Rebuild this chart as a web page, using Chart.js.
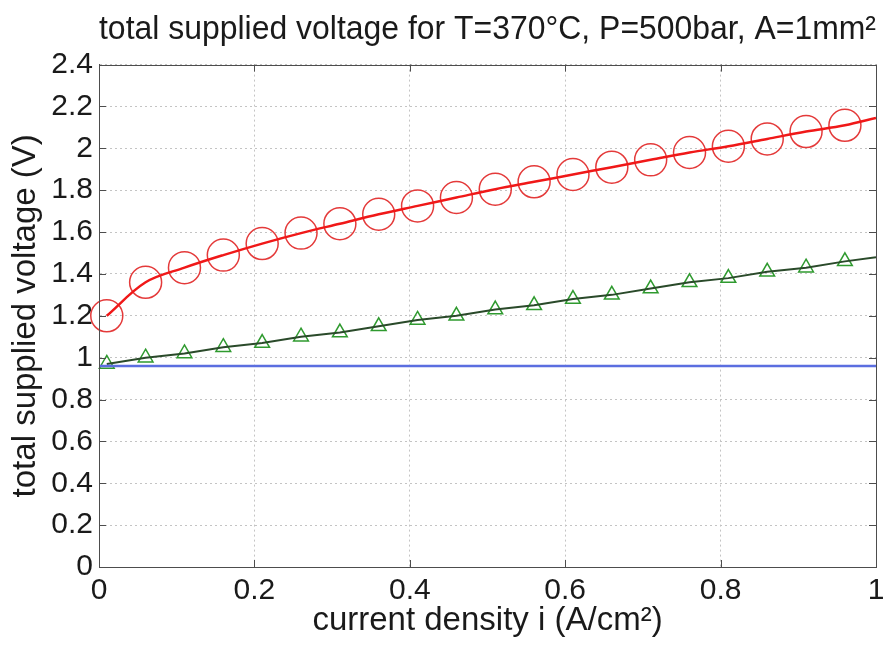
<!DOCTYPE html>
<html>
<head>
<meta charset="utf-8">
<script src="https://cdn.jsdelivr.net/npm/chart.js@4"></script>
<style>
    html, body { margin: 0; padding: 0; background: #fff; }
    #wrap { width: 885px; height: 653px; }
</style>
</head>
<body>
<div id="wrap"><canvas id="voltChart"></canvas></div>
<script>
// current density samples (A/cm2) where the markers sit
var currentDensity = [0.01, 0.06, 0.11, 0.16, 0.21, 0.26, 0.31, 0.36, 0.41, 0.46,
                      0.51, 0.56, 0.61, 0.66, 0.71, 0.76, 0.81, 0.86, 0.91, 0.96];
// total supplied voltage (red circles)
var totalVoltage = [1.20, 1.36, 1.43, 1.49, 1.545, 1.595, 1.64, 1.685, 1.725, 1.765,
                    1.805, 1.84, 1.875, 1.91, 1.945, 1.98, 2.01, 2.045, 2.08, 2.11];
// green triangles
var ohmicVoltage = [0.97, 1.00, 1.02, 1.05, 1.07, 1.10, 1.12, 1.15, 1.18, 1.20,
                    1.23, 1.25, 1.28, 1.30, 1.33, 1.36, 1.38, 1.41, 1.43, 1.46];
// curve ends at i = 1
var totalVoltageEnd = 2.145;
var ohmicVoltageEnd = 1.48;
// blue flat line (reversible voltage)
var reversibleX = [0, 1];
var reversibleV = [0.96, 0.96];

var xTicks = [0, 0.2, 0.4, 0.6, 0.8, 1];
var yTicks = [0, 0.2, 0.4, 0.6, 0.8, 1, 1.2, 1.4, 1.6, 1.8, 2, 2.2, 2.4];

function toPoints(xs, ys) {
    return xs.map(function (x, i) { return { x: x, y: ys[i] }; });
}

var redLine = toPoints(currentDensity.concat([1]), totalVoltage.concat([totalVoltageEnd]));
var greenLine = toPoints(currentDensity.concat([1]), ohmicVoltage.concat([ohmicVoltageEnd]));

// box around the axes + inward ticks, matlab style
var boxPlugin = {
    id: 'box',
    afterDraw: function (chart) {
        var ctx = chart.ctx, a = chart.chartArea;
        var xs = chart.scales.x, ys = chart.scales.y;
        ctx.save();
        ctx.strokeStyle = '#4d4d4d';
        ctx.lineWidth = 1;
        ctx.strokeRect(Math.round(a.left) + 0.5, Math.round(a.top) + 0.5,
            Math.round(a.right - a.left), Math.round(a.bottom - a.top));
        ctx.beginPath();
        xTicks.forEach(function (v) {
            var px = Math.round(xs.getPixelForValue(v)) + 0.5;
            ctx.moveTo(px, a.bottom); ctx.lineTo(px, a.bottom - 7);
            ctx.moveTo(px, a.top); ctx.lineTo(px, a.top + 7);
        });
        yTicks.forEach(function (v) {
            var py = Math.round(ys.getPixelForValue(v)) + 0.5;
            ctx.moveTo(a.left, py); ctx.lineTo(a.left + 7, py);
            ctx.moveTo(a.right, py); ctx.lineTo(a.right - 7, py);
        });
        ctx.stroke();
        ctx.restore();
    }
};

var ctx = document.getElementById('voltChart').getContext('2d');
var voltChart = new Chart(ctx, {
    type: 'scatter',
    data: {
        datasets: [
            {
                label: 'reversible',
                data: toPoints(reversibleX, reversibleV),
                showLine: true,
                borderColor: '#5b6ee0',
                borderWidth: 2.5,
                pointRadius: 0
            },
            {
                label: 'total line',
                data: redLine,
                showLine: true,
                borderColor: '#f01818',
                borderWidth: 2.5,
                tension: 0.35,
                pointRadius: 0
            },
            {
                label: 'total',
                data: toPoints(currentDensity, totalVoltage),
                showLine: false,
                clip: false,
                pointStyle: 'circle',
                pointRadius: 16,
                pointBorderWidth: 1.5,
                pointBorderColor: '#e43a3a',
                pointBackgroundColor: 'rgba(0,0,0,0)'
            },
            {
                label: 'ohmic line',
                data: greenLine,
                showLine: true,
                borderColor: '#2a4a2a',
                borderWidth: 2,
                pointRadius: 0
            },
            {
                label: 'ohmic',
                data: toPoints(currentDensity, ohmicVoltage),
                showLine: false,
                clip: false,
                pointStyle: 'triangle',
                pointRadius: 8.5,
                pointBorderWidth: 1.5,
                pointBorderColor: '#2f9a2f',
                pointBackgroundColor: 'rgba(0,0,0,0)'
            }
        ]
    },
    options: {
        responsive: true,
        maintainAspectRatio: false,
        animation: false,
        layout: { autoPadding: false, padding: { left: 0, right: 9, top: 0, bottom: 0 } },
        plugins: {
            legend: { display: false },
            tooltip: { enabled: false },
            title: {
                display: true,
                fullSize: false,
                text: 'total supplied voltage for T=370°C, P=500bar, A=1mm²',
                color: '#1a1a1a',
                font: { family: 'Liberation Sans', size: 33, weight: 'normal' },
                padding: { top: 10, bottom: 15 }
            }
        },
        scales: {
            x: {
                type: 'linear',
                min: 0,
                max: 1,
                afterFit: function (s) { s.height = 86; s.paddingRight = 0; },
                afterBuildTicks: function (s) { s.ticks = xTicks.map(function (v) { return { value: v }; }); },
                ticks: {
                    color: '#1a1a1a',
                    padding: 6,
                    font: { family: 'Liberation Sans', size: 30 },
                    callback: function (v) { return String(+v.toFixed(1)); }
                },
                grid: { color: '#c4c4c4', lineWidth: 1, drawTicks: false },
                border: { display: true, color: '#4d4d4d', dash: [2, 3] },
                title: {
                    display: true,
                    text: 'current density i (A/cm²)',
                    color: '#1a1a1a',
                    font: { family: 'Liberation Sans', size: 33 },
                    padding: { top: 0, bottom: 12 }
                }
            },
            y: {
                type: 'linear',
                min: 0,
                max: 2.4,
                afterFit: function (s) { s.width = 99; },
                afterBuildTicks: function (s) { s.ticks = yTicks.map(function (v) { return { value: v }; }); },
                ticks: {
                    color: '#1a1a1a',
                    padding: 6,
                    font: { family: 'Liberation Sans', size: 30 },
                    callback: function (v) { return String(+v.toFixed(1)); }
                },
                grid: { color: '#c4c4c4', lineWidth: 1, drawTicks: false },
                border: { display: true, color: '#4d4d4d', dash: [2, 3] },
                title: {
                    display: true,
                    text: 'total supplied voltage (V)',
                    color: '#1a1a1a',
                    font: { family: 'Liberation Sans', size: 33 },
                    padding: { top: 6, bottom: 0 }
                }
            }
        }
    },
    plugins: [boxPlugin]
});
</script>
</body>
</html>
